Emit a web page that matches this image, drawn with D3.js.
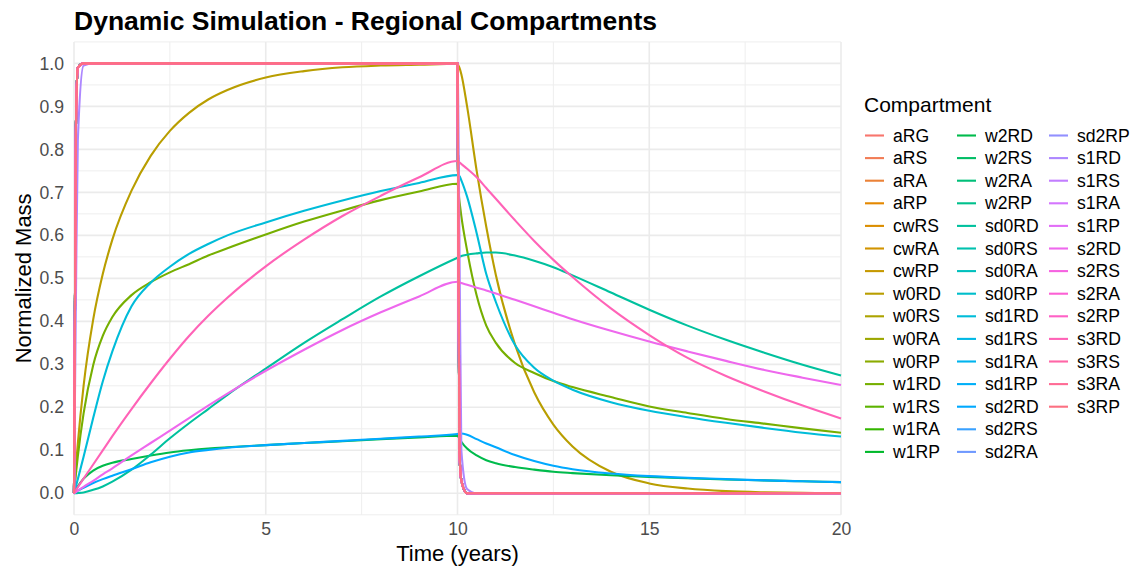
<!DOCTYPE html>
<html><head><meta charset="utf-8">
<script src="https://cdn.jsdelivr.net/npm/d3@7"></script>
<style>
body{margin:0;background:#fff;}
svg{font-family:"Liberation Sans",Arial,sans-serif;}
</style></head><body>
<svg id="chart" width="1134" height="568"></svg>
<script>
// ---------------- data ----------------
const compartments = ["aRG","aRS","aRA","aRP","cwRS","cwRA","cwRP","w0RD","w0RS","w0RA","w0RP",
  "w1RD","w1RS","w1RA","w1RP","w2RD","w2RS","w2RA","w2RP","sd0RD","sd0RS","sd0RA","sd0RP",
  "sd1RD","sd1RS","sd1RA","sd1RP","sd2RD","sd2RS","sd2RA","sd2RP","s1RD","s1RS","s1RA","s1RP",
  "s2RD","s2RS","s2RA","s2RP","s3RD","s3RS","s3RA","s3RP"];

const times = [0,0.05,0.1,0.25,0.5,0.75,1,1.5,2,2.5,3,3.5,4,5,6,7,8,9,10,
  10.05,10.1,10.25,10.5,10.75,11,11.5,12,12.5,13,14,15,16,17,18,19,20];

// compartments that reach equilibrium almost instantly
const fastProfile    = [0,0.85,0.99,1,1,1,1,1,1,1,1,1,1,1,1,1,1,1,1,
  0.1,0.03,0,0,0,0,0,0,0,0,0,0,0,0,0,0,0];
const fastLagProfile = [0,0.45,0.82,0.995,1,1,1,1,1,1,1,1,1,1,1,1,1,1,1,
  0.6,0.1,0.01,0,0,0,0,0,0,0,0,0,0,0,0,0,0];
const laggedCompartments = ["s1RD"];

// slower compartments
const w0RD = [0,0.062,0.116,0.25,0.404,0.51,0.59,0.704,0.785,0.843,0.885,0.916,0.938,0.967,0.982,0.991,0.995,0.997,0.999,
  0.99,0.975,0.9,0.75,0.62,0.508,0.346,0.235,0.16,0.109,0.05,0.023,0.011,0.005,0.0023,0.001,0.0005];
const w1RD = [0,0.045,0.086,0.186,0.298,0.366,0.41,0.461,0.491,0.514,0.533,0.553,0.57,0.602,0.632,0.658,0.682,0.702,0.72,
  0.68,0.645,0.565,0.46,0.39,0.35,0.303,0.28,0.261,0.247,0.224,0.202,0.187,0.173,0.162,0.151,0.141];
const sd1RD = [0,0.016,0.033,0.085,0.175,0.26,0.33,0.435,0.49,0.527,0.557,0.58,0.6,0.63,0.657,0.681,0.703,0.722,0.74,
  0.738,0.728,0.69,0.605,0.51,0.445,0.345,0.292,0.262,0.241,0.212,0.192,0.177,0.164,0.152,0.141,0.132];
const s3RD = [0,0.007,0.014,0.034,0.067,0.1,0.133,0.196,0.256,0.313,0.366,0.413,0.455,0.528,0.59,0.645,0.692,0.735,0.773,
  0.77,0.766,0.755,0.735,0.71,0.685,0.635,0.587,0.543,0.503,0.43,0.368,0.315,0.273,0.237,0.204,0.174];
const s2RD = [0,0.003,0.006,0.015,0.029,0.044,0.058,0.088,0.117,0.146,0.175,0.204,0.232,0.285,0.334,0.38,0.421,0.458,0.492,
  0.491,0.489,0.485,0.478,0.472,0.465,0.45,0.435,0.42,0.405,0.378,0.353,0.33,0.308,0.287,0.269,0.252];
const sd0RD = [0,0.0002,0.0006,0.002,0.008,0.016,0.027,0.055,0.09,0.128,0.163,0.196,0.229,0.29,0.35,0.405,0.458,0.505,0.548,
  0.55,0.552,0.555,0.558,0.56,0.56,0.553,0.541,0.526,0.507,0.467,0.427,0.39,0.357,0.327,0.299,0.274];
const w2RD = [0,0.009,0.016,0.034,0.053,0.064,0.071,0.08,0.088,0.095,0.1,0.104,0.107,0.112,0.117,0.121,0.126,0.13,0.134,
  0.127,0.12,0.104,0.088,0.077,0.07,0.061,0.055,0.05,0.047,0.042,0.038,0.035,0.032,0.03,0.028,0.026];
const sd2RD = [0,0.003,0.006,0.013,0.024,0.033,0.041,0.056,0.072,0.085,0.095,0.101,0.106,0.112,0.117,0.122,0.127,0.132,0.138,
  0.139,0.139,0.136,0.126,0.116,0.107,0.089,0.075,0.064,0.056,0.046,0.04,0.036,0.033,0.03,0.028,0.026];

const xTicks = [0,5,10,15,20];
const yTicks = [0,0.1,0.2,0.3,0.4,0.5,0.6,0.7,0.8,0.9,1.0];

// table built from the arrays above
const slowTable = {w0RD, w1RD, w2RD, sd0RD, sd1RD, sd2RD, s2RD, s3RD};
function valuesFor(name){
  if (slowTable[name]) return slowTable[name];
  if (laggedCompartments.includes(name)) return fastLagProfile;
  return fastProfile;
}

// ---------------- colours: ggplot2 default hue palette (polar LUV) ----------------
function hclR(h, c, l){
  const WY=100, Wu=0.1978398, Wv=0.4683363;
  const hr=h*Math.PI/180, U=c*Math.cos(hr), V=c*Math.sin(hr);
  const Y = l>7.999592 ? WY*Math.pow((l+16)/116,3) : WY*l/903.3;
  const uu = U/(13*l)+Wu, vv = V/(13*l)+Wv;
  const X = 9*Y*uu/(4*vv);
  const Z = -X/3 - 5*Y + 3*Y/vv;
  const g = v => v>0.00304 ? 1.055*Math.pow(v,1/2.4)-0.055 : 12.92*v;
  const cl = v => Math.max(0,Math.min(1,v));
  const r = cl(g((3.240479*X - 1.537150*Y - 0.498535*Z)/WY));
  const gg= cl(g((-0.969256*X + 1.875992*Y + 0.041556*Z)/WY));
  const b = cl(g((0.055648*X - 0.204043*Y + 1.057311*Z)/WY));
  return d3.rgb(Math.round(r*255),Math.round(gg*255),Math.round(b*255)).formatHex();
}
const n = compartments.length;
const palette = compartments.map((d,i)=>hclR((15+360*i/n)%360,100,65));
const color = d3.scaleOrdinal(compartments, palette);

// ---------------- layout ----------------
const svg = d3.select("#chart");
const P = {left:74, right:841, top:41.9, bottom:514.8};
const x = d3.scaleLinear([0,20],[P.left,P.right]);
const y = d3.scaleLinear([-0.05,1.05],[P.bottom,P.top]);

// grid
const g = svg.append("g");
const xMinor = [2.5,7.5,12.5,17.5];
const yMinor = d3.range(-0.05,1.06,0.1).map(v=>+v.toFixed(2));
g.selectAll(".ymin").data(yMinor).join("line")
  .attr("x1",P.left).attr("x2",P.right).attr("y1",d=>y(d)).attr("y2",d=>y(d))
  .attr("stroke","#EEEEEE").attr("stroke-width",1);
g.selectAll(".xmin").data(xMinor).join("line")
  .attr("y1",P.top).attr("y2",P.bottom).attr("x1",d=>x(d)).attr("x2",d=>x(d))
  .attr("stroke","#EEEEEE").attr("stroke-width",1);
g.selectAll(".ymaj").data(yTicks).join("line")
  .attr("x1",P.left).attr("x2",P.right).attr("y1",d=>y(d)).attr("y2",d=>y(d))
  .attr("stroke","#EBEBEB").attr("stroke-width",1.6);
g.selectAll(".xmaj").data(xTicks).join("line")
  .attr("y1",P.top).attr("y2",P.bottom).attr("x1",d=>x(d)).attr("x2",d=>x(d))
  .attr("stroke","#EBEBEB").attr("stroke-width",1.6);

// axes (tick labels only, like theme_minimal)
const yAxis = svg.append("g").attr("transform",`translate(${P.left},0)`)
  .call(d3.axisLeft(y).tickValues(yTicks).tickFormat(d3.format(".1f")).tickSize(0).tickPadding(10));
const xAxis = svg.append("g").attr("transform",`translate(0,${P.bottom})`)
  .call(d3.axisBottom(x).tickValues(xTicks).tickFormat(d3.format("d")).tickSize(0).tickPadding(8));
[yAxis,xAxis].forEach(a=>{
  a.select(".domain").remove();
  a.selectAll("text").attr("fill","#4D4D4D").attr("font-size","17.6px")
    .attr("font-family","'Liberation Sans',Arial,sans-serif");
});

// lines
const line = d3.line().x(d=>x(d[0])).y(d=>y(d[1])).curve(d3.curveMonotoneX);
svg.append("g").selectAll("path").data(compartments).join("path")
  .attr("d",name=>line(times.map((t,i)=>[t,valuesFor(name)[i]])))
  .attr("fill","none").attr("stroke",d=>color(d)).attr("stroke-width",2.1)
  .attr("stroke-linejoin","round").attr("stroke-linecap","butt");

// titles
svg.append("text").attr("x",P.left).attr("y",30).text("Dynamic Simulation - Regional Compartments")
  .attr("font-size","26.5px").attr("font-weight","bold").attr("fill","#000");
svg.append("text").attr("x",(P.left+P.right)/2).attr("y",560.5).attr("text-anchor","middle")
  .text("Time (years)").attr("font-size","22px").attr("fill","#000");
svg.append("text").attr("transform",`translate(31,${(P.top+P.bottom)/2}) rotate(-90)`)
  .attr("text-anchor","middle").text("Normalized Mass").attr("font-size","22px").attr("fill","#000");

// legend
const nRows = Math.ceil(n/3);
const colX = [865, 957, 1049];
const leg = svg.append("g");
leg.append("text").attr("x",864).attr("y",112).text("Compartment").attr("font-size","21px").attr("fill","#000");
const items = leg.selectAll(".item").data(compartments).join("g")
  .attr("transform",(d,i)=>`translate(${colX[Math.floor(i/nRows)]},${135.5+22.6*(i%nRows)})`);
items.append("line").attr("x1",0).attr("x2",19).attr("y1",0).attr("y2",0)
  .attr("stroke",d=>color(d)).attr("stroke-width",2.1);
items.append("text").attr("x",28).attr("y",0).attr("dy","0.35em").text(d=>d)
  .attr("font-size","17.6px").attr("fill","#000");
</script>
</body></html>
